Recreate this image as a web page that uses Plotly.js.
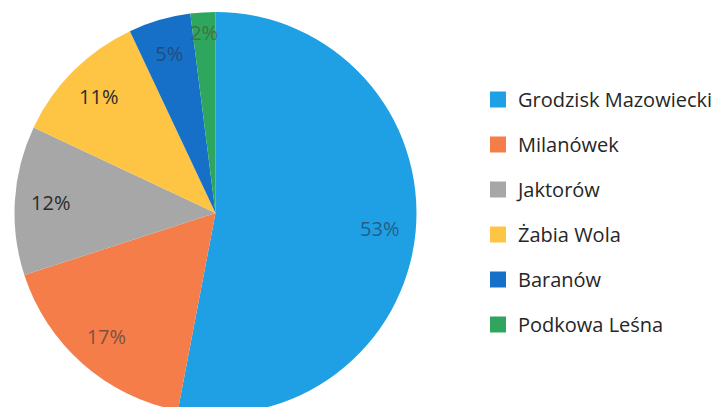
<!DOCTYPE html>
<html>
<head>
<meta charset="utf-8">
<script src="https://cdn.plot.ly/plotly-3.0.1.min.js"></script>
<style>
  html, body { margin: 0; padding: 0; overflow: hidden; background: #fff; }
  #chart { width: 719px; height: 416px; }
</style>
</head>
<body>
<div id="chart"></div>
<script>
// Data
const categories = ['Grodzisk Mazowiecki', 'Milanówek', 'Jaktorów', 'Żabia Wola', 'Baranów', 'Podkowa Leśna'];
const shares = [53, 17, 12, 11, 5, 2];

// Styles
const sliceColors = ['#1FA0E4', '#F47D4A', '#A7A7A7', '#FDC543', '#1670C8', '#2EA65D'];
const labelColors = ['rgba(40,70,100,0.75)', 'rgba(90,70,60,0.8)', '#2b2b2b', '#2b2b2b', 'rgba(40,60,90,0.7)', 'rgba(70,100,60,0.8)'];

const W = 719;
const PLOT_H = 402;       // plot area height (416 - 12 - 2)
const CX = 215.5;         // pie centre x (px)
const R = 201;            // pie radius
const RL = 192;           // label ring outer radius

const pie = {
  type: 'pie',
  labels: categories,
  values: shares,
  sort: false,
  direction: 'clockwise',
  rotation: 0,
  marker: { colors: sliceColors, line: { width: 0 } },
  textinfo: 'none',
  showlegend: false,
  hoverinfo: 'label+percent',
  domain: { x: [(CX - R) / W, (CX + R) / W], y: [0, 1] }
};

// transparent ring carrying the percentage labels
const labelRing = {
  type: 'pie',
  labels: categories,
  values: shares,
  sort: false,
  direction: 'clockwise',
  rotation: 0,
  hole: 0.71875,
  marker: { colors: categories.map(() => 'rgba(0,0,0,0)'), line: { width: 0 } },
  texttemplate: '%{percent:.0%}',
  textposition: 'inside',
  insidetextorientation: 'horizontal',
  textfont: { family: 'Open Sans, sans-serif', size: 20, color: labelColors },
  showlegend: false,
  hoverinfo: 'skip',
  domain: { x: [(CX - RL) / W, (CX + RL) / W], y: [0.5 - RL / PLOT_H, 0.5 + RL / PLOT_H] }
};

// Legend entries (one per category, same colours)
const legendTraces = categories.map((c, i) => ({
  type: 'scatter',
  mode: 'markers',
  x: [null], y: [null],
  name: c,
  legendgroup: 'g' + i,
  marker: { symbol: 'square', size: 17, color: sliceColors[i] },
  hoverinfo: 'skip',
  showlegend: true
}));

const layout = {
  width: 719,
  height: 416,
  margin: { l: 0, r: 0, t: 12, b: 2 },
  paper_bgcolor: '#ffffff',
  plot_bgcolor: 'rgba(0,0,0,0)',
  xaxis: { visible: false, domain: [0.99, 1] },
  yaxis: { visible: false, domain: [0.99, 1] },
  uniformtext: { mode: 'show', minsize: 20 },
  showlegend: true,
  legend: {
    x: 478 / W, xanchor: 'left',
    y: 1 - (80 - 12) / PLOT_H, yanchor: 'top',
    font: { family: 'Open Sans, sans-serif', size: 20, color: '#262626' },
    tracegroupgap: 16,
    itemwidth: 30,
    bgcolor: 'rgba(0,0,0,0)'
  }
};

Plotly.newPlot('chart', [pie, labelRing].concat(legendTraces), layout, { displayModeBar: false, staticPlot: true });
</script>
</body>
</html>
